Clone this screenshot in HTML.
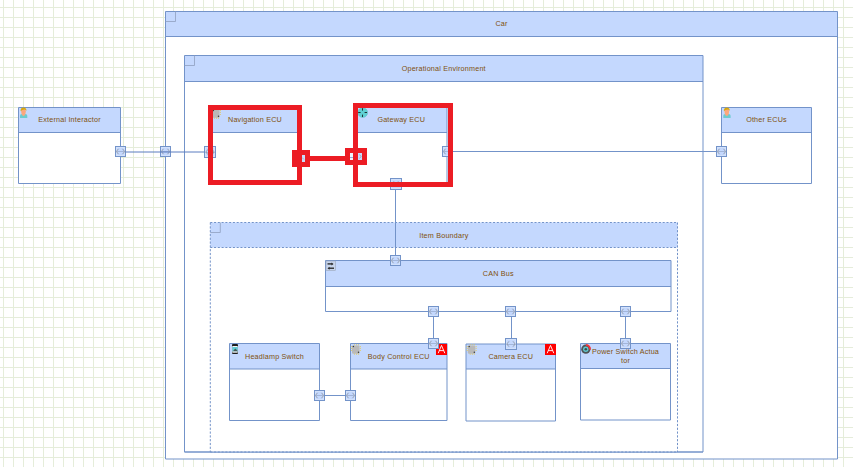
<!DOCTYPE html><html><head><meta charset="utf-8"><style>html,body{margin:0;padding:0;background:#fff;width:853px;height:467px;overflow:hidden}svg{display:block}text{font-family:"Liberation Sans",sans-serif;font-size:7.2px;letter-spacing:0.2px;fill:#80500c}</style></head><body>
<svg width="853" height="467" viewBox="0 0 853 467">
<path d="M3.5 0V467M13.5 0V467M23.5 0V467M33.5 0V467M43.5 0V467M53.5 0V467M63.5 0V467M73.5 0V467M83.5 0V467M93.5 0V467M103.5 0V467M113.5 0V467M123.5 0V467M133.5 0V467M143.5 0V467M153.5 0V467M163.5 0V467M173.5 0V467M183.5 0V467M193.5 0V467M203.5 0V467M213.5 0V467M223.5 0V467M233.5 0V467M243.5 0V467M253.5 0V467M263.5 0V467M273.5 0V467M283.5 0V467M293.5 0V467M303.5 0V467M313.5 0V467M323.5 0V467M333.5 0V467M343.5 0V467M353.5 0V467M363.5 0V467M373.5 0V467M383.5 0V467M393.5 0V467M403.5 0V467M413.5 0V467M423.5 0V467M433.5 0V467M443.5 0V467M453.5 0V467M463.5 0V467M473.5 0V467M483.5 0V467M493.5 0V467M503.5 0V467M513.5 0V467M523.5 0V467M533.5 0V467M543.5 0V467M553.5 0V467M563.5 0V467M573.5 0V467M583.5 0V467M593.5 0V467M603.5 0V467M613.5 0V467M623.5 0V467M633.5 0V467M643.5 0V467M653.5 0V467M663.5 0V467M673.5 0V467M683.5 0V467M693.5 0V467M703.5 0V467M713.5 0V467M723.5 0V467M733.5 0V467M743.5 0V467M753.5 0V467M763.5 0V467M773.5 0V467M783.5 0V467M793.5 0V467M803.5 0V467M813.5 0V467M823.5 0V467M833.5 0V467M843.5 0V467M0 7.5H853M0 17.5H853M0 27.5H853M0 37.5H853M0 47.5H853M0 57.5H853M0 67.5H853M0 77.5H853M0 87.5H853M0 97.5H853M0 107.5H853M0 117.5H853M0 127.5H853M0 137.5H853M0 147.5H853M0 157.5H853M0 167.5H853M0 177.5H853M0 187.5H853M0 197.5H853M0 207.5H853M0 217.5H853M0 227.5H853M0 237.5H853M0 247.5H853M0 257.5H853M0 267.5H853M0 277.5H853M0 287.5H853M0 297.5H853M0 307.5H853M0 317.5H853M0 327.5H853M0 337.5H853M0 347.5H853M0 357.5H853M0 367.5H853M0 377.5H853M0 387.5H853M0 397.5H853M0 407.5H853M0 417.5H853M0 427.5H853M0 437.5H853M0 447.5H853M0 457.5H853" stroke="#e5edda" stroke-width="1" fill="none"/>
<rect x="165.5" y="11.5" width="672.0" height="447.5" fill="#fff"/>
<rect x="165.5" y="11.5" width="672.0" height="25.0" fill="#c4d8fe"/>
<path d="M165.5 11.5H837.5V459H165.5ZM165.5 36.5H837.5" fill="none" stroke="#7393c9"/>
<path d="M175.5 11.5V21.5H165.5" fill="none" stroke="#8f9fbf" stroke-width="0.8"/>
<text x="501.5" y="26.0" text-anchor="middle">Car</text>
<rect x="184.5" y="55.5" width="518.5" height="396.5" fill="#fff"/>
<rect x="184.5" y="55.5" width="518.5" height="26.0" fill="#c4d8fe"/>
<path d="M184.5 55.5H703V452H184.5ZM184.5 81.5H703" fill="none" stroke="#7393c9"/>
<path d="M194.5 55.5V65.5H184.5" fill="none" stroke="#8f9fbf" stroke-width="0.8"/>
<text x="443.75" y="70.5" text-anchor="middle">Operational Environment</text>
<rect x="18.5" y="107.5" width="102.0" height="76.0" fill="#fff"/>
<rect x="18.5" y="107.5" width="102.0" height="25.0" fill="#c4d8fe"/>
<path d="M18.5 107.5H120.5V183.5H18.5ZM18.5 132.5H120.5" fill="none" stroke="#7393c9"/>
<text x="69.5" y="122.0" text-anchor="middle">External Interactor</text>
<g transform="translate(20 107)" shape-rendering="auto"><path d="M0 11V8.7Q0 6.9 1.8 6.9H5.4Q7.3 6.9 7.3 8.7V11Z" fill="#6ccbd0"/><path d="M1.2 4.5Q1.2 1.6 3.5 1.6Q5.8 1.6 5.8 4.5Q5.8 7.3 4.5 8.6Q3.5 9.3 2.5 8.6Q1.2 7.3 1.2 4.5Z" fill="#fba77c"/><path d="M0.6 4.3Q0.3 0.4 3.5 0.4Q6.7 0.4 6.4 4.1Q5.9 2.6 4.6 2.4Q2.2 2.3 0.6 4.3Z" fill="#d8a70c"/></g>
<rect x="721.5" y="107.5" width="90.0" height="76.0" fill="#fff"/>
<rect x="721.5" y="107.5" width="90.0" height="25.0" fill="#c4d8fe"/>
<path d="M721.5 107.5H811.5V183.5H721.5ZM721.5 132.5H811.5" fill="none" stroke="#7393c9"/>
<text x="766.5" y="122.0" text-anchor="middle">Other ECUs</text>
<g transform="translate(723.3 107)" shape-rendering="auto"><path d="M0 11V8.7Q0 6.9 1.8 6.9H5.4Q7.3 6.9 7.3 8.7V11Z" fill="#6ccbd0"/><path d="M1.2 4.5Q1.2 1.6 3.5 1.6Q5.8 1.6 5.8 4.5Q5.8 7.3 4.5 8.6Q3.5 9.3 2.5 8.6Q1.2 7.3 1.2 4.5Z" fill="#fba77c"/><path d="M0.6 4.3Q0.3 0.4 3.5 0.4Q6.7 0.4 6.4 4.1Q5.9 2.6 4.6 2.4Q2.2 2.3 0.6 4.3Z" fill="#d8a70c"/></g>
<rect x="210.5" y="107.5" width="89.0" height="75.0" fill="#fff"/>
<rect x="210.5" y="107.5" width="89.0" height="25.0" fill="#c4d8fe"/>
<path d="M210.5 107.5H299.5V182.5H210.5ZM210.5 132.5H299.5" fill="none" stroke="#7393c9"/>
<text x="255.0" y="122.0" text-anchor="middle">Navigation ECU</text>
<g transform="translate(210.5 108)" shape-rendering="auto"><rect x="1.5" y="1.5" width="7.5" height="8.2" rx="1.3" fill="#b9b9b9"/><circle cx="3.9" cy="0.8" r="0.55" fill="#e6c84a"/><circle cx="3.9" cy="10.1" r="0.55" fill="#e6c84a"/><circle cx="6.0" cy="0.8" r="0.55" fill="#e6c84a"/><circle cx="6.0" cy="10.1" r="0.55" fill="#e6c84a"/><circle cx="8.0" cy="0.8" r="0.55" fill="#e6c84a"/><circle cx="8.0" cy="10.1" r="0.55" fill="#e6c84a"/><circle cx="0.9" cy="2.6" r="0.55" fill="#e6c84a"/><circle cx="9.8" cy="2.6" r="0.55" fill="#e6c84a"/><circle cx="0.9" cy="4.5" r="0.55" fill="#e6c84a"/><circle cx="9.8" cy="4.5" r="0.55" fill="#e6c84a"/><circle cx="0.9" cy="6.5" r="0.55" fill="#e6c84a"/><circle cx="9.8" cy="6.5" r="0.55" fill="#e6c84a"/><circle cx="2.9" cy="2.6" r="0.75" fill="#3a3a3a"/><circle cx="8.0" cy="8.3" r="0.75" fill="#3a3a3a"/></g>
<rect x="355.5" y="105.5" width="91.5" height="78.5" fill="#fff"/>
<rect x="355.5" y="105.5" width="91.5" height="27.0" fill="#c4d8fe"/>
<path d="M355.5 105.5H447V184H355.5ZM355.5 132.5H447" fill="none" stroke="#7393c9"/>
<text x="401.25" y="122.0" text-anchor="middle">Gateway ECU</text>
<g><circle cx="362.7" cy="112.6" r="4.9" fill="#5fd0d3" stroke="#56b9bd" stroke-width="0.5"/><path d="M362.5 108.2V110.6M362.5 114.6V117M358.2 112.5H360.6M364.6 112.5H367" stroke="#203436" stroke-width="1"/></g>
<rect x="210.3" y="222.5" width="467.2" height="229.5" fill="#fff"/>
<rect x="210.3" y="222.5" width="467.2" height="25.0" fill="#c4d8fe"/>
<path d="M210.3 222.5H677.5M210.3 247.5H677.5M210.3 452H677.5" fill="none" stroke="#7393c9" stroke-dasharray="2 1.77"/>
<path d="M210.3 222.5V452M677.5 222.5V452" fill="none" stroke="#7393c9" stroke-dasharray="2.2 1.6"/>
<path d="M220.3 222.5V232.5H210.3" fill="none" stroke="#8f9fbf" stroke-width="0.8"/>
<text x="443.9" y="237.8" text-anchor="middle">Item Boundary</text>
<path d="M184.5 452H703" stroke="#7393c9" fill="none" shape-rendering="auto"/>
<rect x="325.5" y="260.5" width="345.5" height="51.0" fill="#fff"/>
<rect x="325.5" y="260.5" width="345.5" height="26.0" fill="#c4d8fe"/>
<path d="M325.5 260.5H671V311.5H325.5ZM325.5 286.5H671" fill="none" stroke="#7393c9"/>
<text x="498.25" y="275.5" text-anchor="middle">CAN Bus</text>
<g transform="translate(325.5 260.5)" shape-rendering="auto"><rect x="0.5" y="0.5" width="9.5" height="9.5" fill="#c8d5ec" stroke="#9aa6bb" stroke-width="0.6"/><path d="M2 3.4H6.5" stroke="#222" stroke-width="1.3"/><path d="M6 1.9L8 3.4L6 4.9Z" fill="#222"/><path d="M3.5 7.7H8.5" stroke="#222" stroke-width="1.3"/><path d="M4 6.2L2 7.7L4 9.2Z" fill="#222"/></g>
<rect x="229.5" y="343.5" width="90.0" height="77.0" fill="#fff"/>
<rect x="229.5" y="343.5" width="90.0" height="25.5" fill="#c4d8fe"/>
<path d="M229.5 343.5H319.5V420.5H229.5ZM229.5 369H319.5" fill="none" stroke="#7393c9"/>
<text x="274.5" y="358.75" text-anchor="middle">Headlamp Switch</text>
<g transform="translate(232 344)"><rect x="0" y="0" width="6" height="10" rx="1" fill="#1e1e1e"/><rect x="0.3" y="2.0" width="5.4" height="6.7" fill="#f6f6f6"/><rect x="0.3" y="3.0" width="5.4" height="4.3" fill="#62ccd4"/><path d="M1.0 7.3Q2 5.6 3.4 4.6Q4.6 5.6 5.7 7.3Z" fill="#475658"/></g>
<rect x="350.5" y="343.5" width="96.5" height="77.0" fill="#fff"/>
<rect x="350.5" y="343.5" width="96.5" height="25.5" fill="#c4d8fe"/>
<path d="M350.5 343.5H447V420.5H350.5ZM350.5 369H447" fill="none" stroke="#7393c9"/>
<text x="398.75" y="358.75" text-anchor="middle">Body Control ECU</text>
<g transform="translate(350.5 344)" shape-rendering="auto"><rect x="1.5" y="1.5" width="7.5" height="8.2" rx="1.3" fill="#b9b9b9"/><circle cx="3.9" cy="0.8" r="0.55" fill="#e6c84a"/><circle cx="3.9" cy="10.1" r="0.55" fill="#e6c84a"/><circle cx="6.0" cy="0.8" r="0.55" fill="#e6c84a"/><circle cx="6.0" cy="10.1" r="0.55" fill="#e6c84a"/><circle cx="8.0" cy="0.8" r="0.55" fill="#e6c84a"/><circle cx="8.0" cy="10.1" r="0.55" fill="#e6c84a"/><circle cx="0.9" cy="2.6" r="0.55" fill="#e6c84a"/><circle cx="9.8" cy="2.6" r="0.55" fill="#e6c84a"/><circle cx="0.9" cy="4.5" r="0.55" fill="#e6c84a"/><circle cx="9.8" cy="4.5" r="0.55" fill="#e6c84a"/><circle cx="0.9" cy="6.5" r="0.55" fill="#e6c84a"/><circle cx="9.8" cy="6.5" r="0.55" fill="#e6c84a"/><circle cx="2.9" cy="2.6" r="0.75" fill="#3a3a3a"/><circle cx="8.0" cy="8.3" r="0.75" fill="#3a3a3a"/></g>
<rect x="466" y="344" width="89.5" height="77" fill="#fff"/>
<rect x="466" y="344" width="89.5" height="25" fill="#c4d8fe"/>
<path d="M466 344H555.5V421H466ZM466 369H555.5" fill="none" stroke="#7393c9"/>
<text x="510.75" y="358.75" text-anchor="middle">Camera ECU</text>
<g transform="translate(466.3 344)" shape-rendering="auto"><rect x="1.5" y="1.5" width="7.5" height="8.2" rx="1.3" fill="#b9b9b9"/><circle cx="3.9" cy="0.8" r="0.55" fill="#e6c84a"/><circle cx="3.9" cy="10.1" r="0.55" fill="#e6c84a"/><circle cx="6.0" cy="0.8" r="0.55" fill="#e6c84a"/><circle cx="6.0" cy="10.1" r="0.55" fill="#e6c84a"/><circle cx="8.0" cy="0.8" r="0.55" fill="#e6c84a"/><circle cx="8.0" cy="10.1" r="0.55" fill="#e6c84a"/><circle cx="0.9" cy="2.6" r="0.55" fill="#e6c84a"/><circle cx="9.8" cy="2.6" r="0.55" fill="#e6c84a"/><circle cx="0.9" cy="4.5" r="0.55" fill="#e6c84a"/><circle cx="9.8" cy="4.5" r="0.55" fill="#e6c84a"/><circle cx="0.9" cy="6.5" r="0.55" fill="#e6c84a"/><circle cx="9.8" cy="6.5" r="0.55" fill="#e6c84a"/><circle cx="2.9" cy="2.6" r="0.75" fill="#3a3a3a"/><circle cx="8.0" cy="8.3" r="0.75" fill="#3a3a3a"/></g>
<rect x="580.5" y="343.5" width="90.0" height="76.5" fill="#fff"/>
<rect x="580.5" y="343.5" width="90.0" height="25.0" fill="#c4d8fe"/>
<path d="M580.5 343.5H670.5V420H580.5ZM580.5 368.5H670.5" fill="none" stroke="#7393c9"/>
<text x="625.5" y="354.1" text-anchor="middle">Power Switch Actua</text>
<text x="625.5" y="362.9" text-anchor="middle">tor</text>
<g shape-rendering="auto"><circle cx="585.8" cy="349.2" r="4.6" fill="#505456"/><circle cx="585.8" cy="349.2" r="2.7" fill="#62c8cf"/><circle cx="585.8" cy="349.2" r="1.3" fill="#3f4a4c"/><path d="M586.0999999999999 345.0A4.2 4.2 0 0 1 590.0 349.59999999999997" stroke="#f2333a" stroke-width="1.9" fill="none"/></g>
<rect x="436" y="344" width="11" height="11" fill="#ff0000"/>
<path d="M438.2 353.2L441.5 345.4L444.8 353.2M439.2 350.6H443.8" stroke="#fff" stroke-width="0.9" fill="none" shape-rendering="auto"/>
<rect x="545" y="344" width="11" height="11" fill="#ff0000"/>
<path d="M547.2 353.2L550.5 345.4L553.8 353.2M548.2 350.6H552.8" stroke="#fff" stroke-width="0.9" fill="none" shape-rendering="auto"/>
<rect x="115.5" y="146.5" width="10" height="10" fill="#c4d8fe" stroke="#7393c9"/>
<rect x="116.5" y="147.5" width="8" height="8" fill="none" stroke="#d2e1fb"/>
<path d="M116.5 151.5H124.5" stroke="#a3b6d9"/>
<path d="M118.5 148.8L116.3 151.5L118.5 154.2M122.5 148.8L124.7 151.5L122.5 154.2" stroke="#8a909b" stroke-width="0.8" fill="none" />
<rect x="160.5" y="146.5" width="10" height="10" fill="#c4d8fe" stroke="#7393c9"/>
<rect x="161.5" y="147.5" width="8" height="8" fill="none" stroke="#d2e1fb"/>
<path d="M161.5 151.5H169.5" stroke="#a3b6d9"/>
<path d="M163.5 148.8L161.3 151.5L163.5 154.2M167.5 148.8L169.7 151.5L167.5 154.2" stroke="#8a909b" stroke-width="0.8" fill="none" />
<rect x="204.5" y="146.5" width="11" height="11" fill="#c4d8fe" stroke="#7393c9"/>
<rect x="205.5" y="147.5" width="9" height="9" fill="none" stroke="#d2e1fb"/>
<path d="M205.5 152.5H214.5" stroke="#a3b6d9"/>
<path d="M208 149.3L205.8 152L208 154.7M212 149.3L214.2 152L212 154.7" stroke="#8a909b" stroke-width="0.8" fill="none" />
<rect x="442.5" y="146.5" width="10" height="10" fill="#c4d8fe" stroke="#7393c9"/>
<rect x="443.5" y="147.5" width="8" height="8" fill="none" stroke="#d2e1fb"/>
<path d="M443.5 151.5H451.5" stroke="#a3b6d9"/>
<path d="M445.5 148.8L443.3 151.5L445.5 154.2M449.5 148.8L451.7 151.5L449.5 154.2" stroke="#8a909b" stroke-width="0.8" fill="none" />
<rect x="716.5" y="146.5" width="10" height="10" fill="#c4d8fe" stroke="#7393c9"/>
<rect x="717.5" y="147.5" width="8" height="8" fill="none" stroke="#d2e1fb"/>
<path d="M717.5 151.5H725.5" stroke="#a3b6d9"/>
<path d="M719.5 148.8L717.3 151.5L719.5 154.2M723.5 148.8L725.7 151.5L723.5 154.2" stroke="#8a909b" stroke-width="0.8" fill="none" />
<rect x="390.5" y="178.5" width="11" height="11" fill="#c4d8fe" stroke="#7393c9"/>
<rect x="391.5" y="179.5" width="9" height="9" fill="none" stroke="#d2e1fb"/>
<path d="M391.5 184.5H400.5" stroke="#a3b6d9"/>
<path d="M394 181.3L391.8 184L394 186.7M398 181.3L400.2 184L398 186.7" stroke="#8a909b" stroke-width="0.8" fill="none" />
<rect x="390.5" y="255.5" width="10" height="10" fill="#c4d8fe" stroke="#7393c9"/>
<rect x="391.5" y="256.5" width="8" height="8" fill="none" stroke="#d2e1fb"/>
<path d="M391.5 260.5H399.5" stroke="#a3b6d9"/>
<path d="M393.5 257.8L391.3 260.5L393.5 263.2M397.5 257.8L399.7 260.5L397.5 263.2" stroke="#8a909b" stroke-width="0.8" fill="none" />
<rect x="428.5" y="306.5" width="10" height="10" fill="#c4d8fe" stroke="#7393c9"/>
<rect x="429.5" y="307.5" width="8" height="8" fill="none" stroke="#d2e1fb"/>
<path d="M429.5 311.5H437.5" stroke="#a3b6d9"/>
<path d="M431.5 308.8L429.3 311.5L431.5 314.2M435.5 308.8L437.7 311.5L435.5 314.2" stroke="#8a909b" stroke-width="0.8" fill="none" />
<rect x="505.5" y="306.5" width="10" height="10" fill="#c4d8fe" stroke="#7393c9"/>
<rect x="506.5" y="307.5" width="8" height="8" fill="none" stroke="#d2e1fb"/>
<path d="M506.5 311.5H514.5" stroke="#a3b6d9"/>
<path d="M508.5 308.8L506.3 311.5L508.5 314.2M512.5 308.8L514.7 311.5L512.5 314.2" stroke="#8a909b" stroke-width="0.8" fill="none" />
<rect x="620.5" y="306.5" width="10" height="10" fill="#c4d8fe" stroke="#7393c9"/>
<rect x="621.5" y="307.5" width="8" height="8" fill="none" stroke="#d2e1fb"/>
<path d="M621.5 311.5H629.5" stroke="#a3b6d9"/>
<path d="M623.5 308.8L621.3 311.5L623.5 314.2M627.5 308.8L629.7 311.5L627.5 314.2" stroke="#8a909b" stroke-width="0.8" fill="none" />
<rect x="428.5" y="338.5" width="10" height="10" fill="#c4d8fe" stroke="#7393c9"/>
<rect x="429.5" y="339.5" width="8" height="8" fill="none" stroke="#d2e1fb"/>
<path d="M429.5 343.5H437.5" stroke="#a3b6d9"/>
<path d="M431.5 340.8L429.3 343.5L431.5 346.2M435.5 340.8L437.7 343.5L435.5 346.2" stroke="#8a909b" stroke-width="0.8" fill="none" />
<rect x="505.5" y="338.5" width="11" height="11" fill="#c4d8fe" stroke="#7393c9"/>
<rect x="506.5" y="339.5" width="9" height="9" fill="none" stroke="#d2e1fb"/>
<path d="M506.5 344.5H515.5" stroke="#a3b6d9"/>
<path d="M509 341.3L506.8 344L509 346.7M513 341.3L515.2 344L513 346.7" stroke="#8a909b" stroke-width="0.8" fill="none" />
<rect x="620.5" y="338.5" width="10" height="10" fill="#c4d8fe" stroke="#7393c9"/>
<rect x="621.5" y="339.5" width="8" height="8" fill="none" stroke="#d2e1fb"/>
<path d="M621.5 343.5H629.5" stroke="#a3b6d9"/>
<path d="M623.5 340.8L621.3 343.5L623.5 346.2M627.5 340.8L629.7 343.5L627.5 346.2" stroke="#8a909b" stroke-width="0.8" fill="none" />
<rect x="314.5" y="390.5" width="10" height="10" fill="#c4d8fe" stroke="#7393c9"/>
<rect x="315.5" y="391.5" width="8" height="8" fill="none" stroke="#d2e1fb"/>
<path d="M315.5 395.5H323.5" stroke="#a3b6d9"/>
<path d="M317.5 392.8L315.3 395.5L317.5 398.2M321.5 392.8L323.7 395.5L321.5 398.2" stroke="#8a909b" stroke-width="0.8" fill="none" />
<rect x="345.5" y="390.5" width="10" height="10" fill="#c4d8fe" stroke="#7393c9"/>
<rect x="346.5" y="391.5" width="8" height="8" fill="none" stroke="#d2e1fb"/>
<path d="M346.5 395.5H354.5" stroke="#a3b6d9"/>
<path d="M348.5 392.8L346.3 395.5L348.5 398.2M352.5 392.8L354.7 395.5L352.5 398.2" stroke="#8a909b" stroke-width="0.8" fill="none" />
<g stroke="#7393c9" fill="none">
<path d="M125.5 152H204.5" stroke="#5a7cc0"/><path d="M452.5 151.5H716.5M324.5 395.5H345.5"/>
<path d="M395.5 189V255.5"/>
<path d="M433.5 316.5V338.5M511.5 316.5V338.5M625.5 316.5V338.5"/>
</g>
<rect x="297" y="155" width="8" height="7" fill="#c9dcfb"/><rect x="350" y="153" width="4" height="7" fill="#eef4fd"/><path d="M350 157.5H353" stroke="#95acd8"/><rect x="357" y="153" width="5" height="7" fill="#c6dafc"/><path d="M359.5 154.5L361 156.5L359.5 158.5" stroke="#8f96a3" stroke-width="0.7" fill="none"/><path d="M302 157.5L304 159.5" stroke="#9aa3b3" stroke-width="0.7"/>
<g fill="#ec1c24">
<path d="M208 105H302V185H208ZM213 110V180H297V110Z" fill-rule="evenodd"/>
<path d="M292 150H310V167H292ZM302 155V162H305V155Z" fill-rule="evenodd"/>
<rect x="310" y="156" width="35" height="5"/>
<path d="M353 103H453V187H353ZM358 108V182H448V108Z" fill-rule="evenodd"/>
<path d="M345 148H367V165H345ZM350 153V160H353V153ZM358 153V160H362V153Z" fill-rule="evenodd"/>
</g>
</svg></body></html>
